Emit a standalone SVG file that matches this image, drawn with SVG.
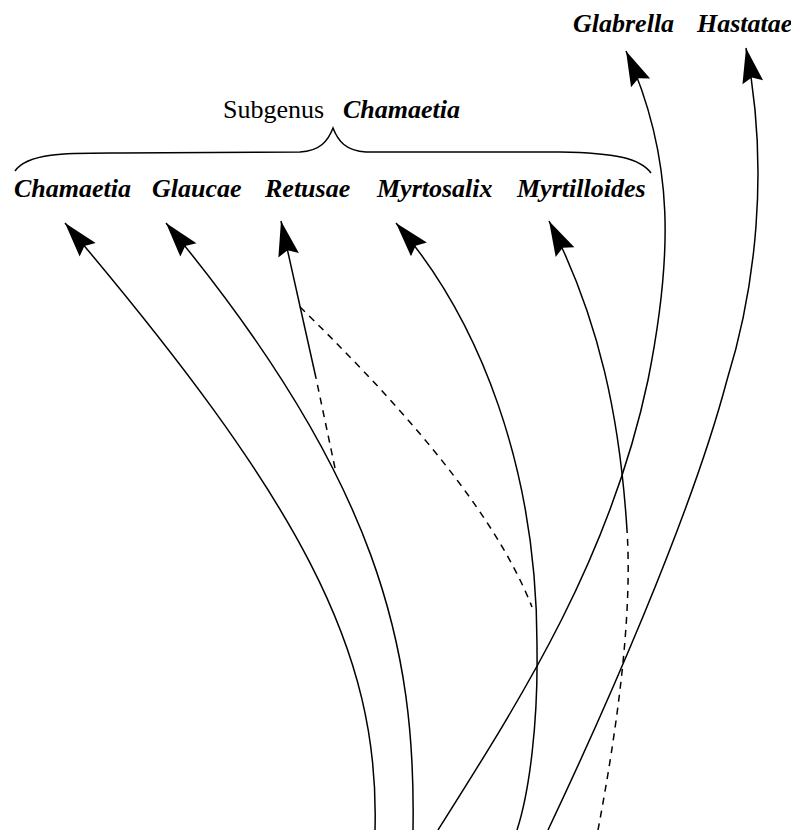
<svg xmlns="http://www.w3.org/2000/svg" width="791" height="830" viewBox="0 0 791 830">
<style>
.lbl{font-family:"Liberation Serif","Times New Roman",serif;font-size:26px;font-style:italic;font-weight:bold;fill:#000}
.rom{font-family:"Liberation Serif","Times New Roman",serif;font-size:26px;fill:#000}
.ln{fill:none;stroke:#000;stroke-width:1.5}
.ar{marker-end:url(#ah)}
.dash{stroke-dasharray:7,6}
</style>
<defs>
<marker id="ah" markerUnits="userSpaceOnUse" markerWidth="40" markerHeight="26" viewBox="-37 -13 40 26" refX="0" refY="0" orient="auto">
<path d="M0,0 L-35,-10.5 L-30,0 L-35,10.5 Z" fill="#000"/>
</marker>
</defs>
<rect width="791" height="830" fill="#fff"/>
<g id="subgenus">
<text class="rom" x="223" y="118">Subgenus</text>
<text class="lbl" x="343" y="118">Chamaetia</text>
<path class="ln" d="M15,171 C28,152 70,153 120,153 L300,152 C320,151 328,141 333,128 C338,141 346,151 366,152 L560,152 C615,153 640,158 651,173"/>
</g>
<g id="n-chamaetia"><text class="lbl" x="14" y="197">Chamaetia</text></g>
<g id="n-glaucae"><text class="lbl" x="152" y="197">Glaucae</text></g>
<g id="n-retusae"><text class="lbl" x="265" y="197">Retusae</text></g>
<g id="n-myrtosalix"><text class="lbl" x="377" y="197">Myrtosalix</text></g>
<g id="n-myrtilloides"><text class="lbl" x="517" y="197">Myrtilloides</text></g>
<g id="n-glabrella"><text class="lbl" x="573" y="32">Glabrella</text></g>
<g id="n-hastatae"><text class="lbl" x="697" y="32">Hastatae</text></g>
<g id="connectors">
<path class="ln ar" d="M375,830 C380,650 300,500 65,223"/>
<path class="ln ar" d="M413,830 C416,650 380,480 166,223"/>
<path class="ln ar" d="M316,378 L281,221"/>
<path class="ln dash" d="M335,468 L316,378"/>
<path class="ln dash" d="M300,307 C380,385 490,500 532,607"/>
<path class="ln ar" d="M517,830 C530,790 538,720 537,650 C538,470 480,320 396,223"/>
<path class="ln dash" d="M598,830 C615,740 633,620 627,530"/>
<path class="ln ar" d="M627,530 C620,420 600,320 549,221"/>
<path class="ln ar" d="M438,830 C520,700 610,560 648,380 C672,260 676,160 626,51"/>
<path class="ln ar" d="M548,830 C600,720 690,520 727,380 C755,290 770,170 746,48"/>
</g>
</svg>
